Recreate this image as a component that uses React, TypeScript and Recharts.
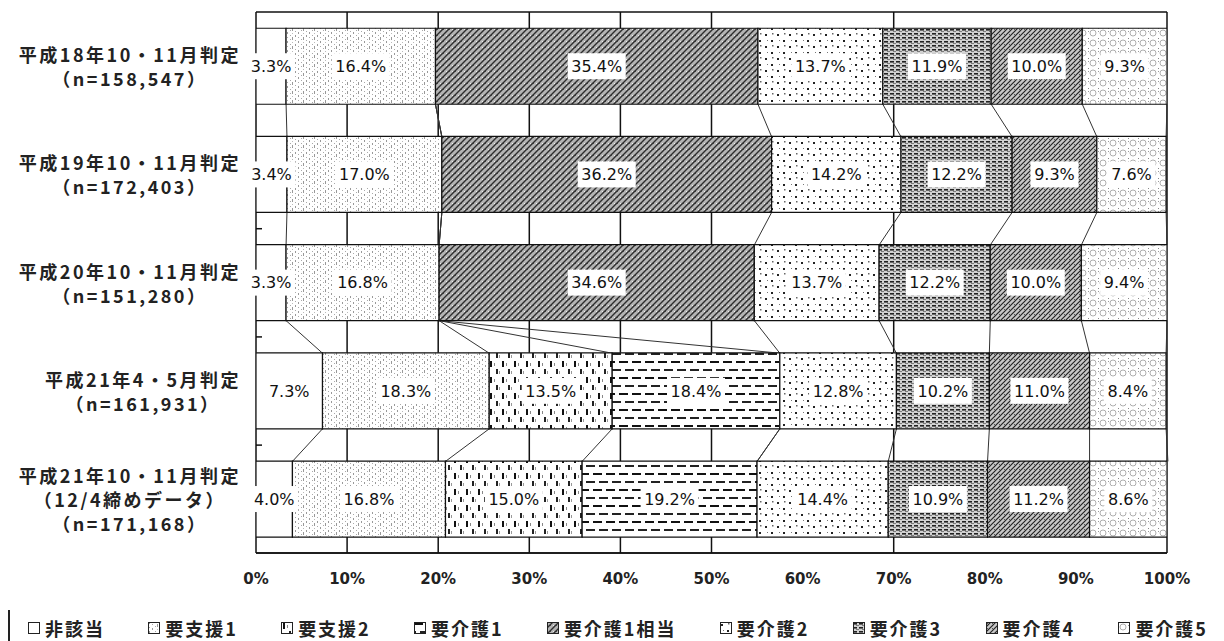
import {
  BarChart,
  Bar,
  XAxis,
  YAxis,
  CartesianGrid,
  LabelList,
  Legend,
} from "recharts";

const ROW_TITLES = [
  "平成18年10・11月判定",
  "平成19年10・11月判定",
  "平成20年10・11月判定",
  "平成21年4・5月判定",
  "平成21年10・11月判定",
];
const ROW_NOTES = [
  ["（n=158,547）"],
  ["（n=172,403）"],
  ["（n=151,280）"],
  ["（n=161,931）"],
  ["（12/4締めデータ）", "（n=171,168）"],
];

const SERIES_NAMES = [
  "非該当",
  "要支援1",
  "要支援2",
  "要介護1",
  "要介護1相当",
  "要介護2",
  "要介護3",
  "要介護4",
  "要介護5",
];

// percentages per judgement period, top row first
const HIGAITO = [3.3, 3.4, 3.3, 7.3, 4.0];
const SHIEN1 = [16.4, 17.0, 16.8, 18.3, 16.8];
const SHIEN2 = [0, 0, 0, 13.5, 15.0];
const KAIGO1 = [0, 0, 0, 18.4, 19.2];
const KAIGO1_EQ = [35.4, 36.2, 34.6, 0, 0];
const KAIGO2 = [13.7, 14.2, 13.7, 12.8, 14.4];
const KAIGO3 = [11.9, 12.2, 12.2, 10.2, 10.9];
const KAIGO4 = [10.0, 9.3, 10.0, 11.0, 11.2];
const KAIGO5 = [9.3, 7.6, 9.4, 8.4, 8.6];

const X_MAX = 100;
const X_TICKS = [0, 10, 20, 30, 40, 50, 60, 70, 80, 90, 100];
const GRID_X = [0, 10, 20, 30, 40, 50, 70, 100];
// row boundaries that carry a short tick on the left axis
const ROW_BOUNDS = [2, 3, 4];

const SERIES_VALUES = [
  HIGAITO,
  SHIEN1,
  SHIEN2,
  KAIGO1,
  KAIGO1_EQ,
  KAIGO2,
  KAIGO3,
  KAIGO4,
  KAIGO5,
];
const SERIES_KEYS = SERIES_VALUES.map((_, k) => `s${k}`);
const SERIES_FILLS = [
  "#ffffff",
  "url(#p-shien1)",
  "url(#p-shien2)",
  "url(#p-kaigo1)",
  "url(#p-kaigo1eq)",
  "url(#p-kaigo2)",
  "url(#p-kaigo3)",
  "url(#p-kaigo4)",
  "url(#p-kaigo5)",
];

// gap above and below each bar, as a share of the row band
const GAP = 0.15;

const data = ROW_TITLES.map((row, r) => {
  const d: Record<string, string | number> = { row };
  SERIES_VALUES.forEach((vals, k) => {
    d[SERIES_KEYS[k]] = vals[r];
  });
  return d;
});

// running totals, used for the series lines joining neighbouring bars
const ends = ROW_TITLES.map((_, r) => {
  let sum = 0;
  return SERIES_VALUES.map((vals) => (sum += vals[r]));
});

const JP_FONT = '"Noto Sans CJK JP", "Noto Sans", sans-serif';
const NUM_FONT = '"DejaVu Sans", sans-serif';

// drawn as the background of the first series: its rect spans the whole
// value axis for each row, so the series lines can be placed from it
function SeriesLines({ x, y, width, height, index, payload }: any) {
  const r = typeof index === "number" ? index : ROW_TITLES.indexOf(payload?.row);
  if (r < 0 || r >= ROW_TITLES.length - 1) return null;
  const band = height / (1 - 2 * GAP);
  const px = (v: number) => x + (width * v) / X_MAX;
  const y1 = y + height;
  const y2 = y + band;
  const mid = (y1 + y2) / 2;
  return (
    <g>
      {ends[r].map((e, k) => (
        <line
          key={k}
          x1={px(e)}
          y1={y1}
          x2={px(ends[r + 1][k])}
          y2={y2}
          stroke="#333"
          strokeWidth={1}
        />
      ))}
      {ROW_BOUNDS.includes(r + 1) && (
        <line x1={x} x2={x + 6} y1={mid} y2={mid} stroke="#111" strokeWidth={1.5} />
      )}
    </g>
  );
}

function RowTick({ x, y, payload }: any) {
  const i = ROW_TITLES.indexOf(payload.value);
  const lines = [ROW_TITLES[i], ...ROW_NOTES[i]];
  return (
    <foreignObject x={x - 260} y={y - 45} width={245} height={90}>
      <div
        style={{
          height: "100%",
          display: "flex",
          alignItems: "center",
          justifyContent: "flex-end",
        }}
      >
        <div
          style={{
            textAlign: "center",
            fontFamily: JP_FONT,
            fontSize: 18,
            fontWeight: 700,
            letterSpacing: 2.5,
            lineHeight: "24px",
            color: "#222",
            whiteSpace: "nowrap",
          }}
        >
          {lines.map((l) => (
            <div key={l}>{l}</div>
          ))}
        </div>
      </div>
    </foreignObject>
  );
}

function ValueLabel({ x, y, width, height, value }: any) {
  if (!value) return null;
  const text = `${Number(value).toFixed(1)}%`;
  const w = text.length * 10 + 8;
  const cx = x + width / 2;
  const cy = y + height / 2;
  return (
    <g>
      <rect x={cx - w / 2} y={cy - 13} width={w} height={26} fill="#fff" />
      <text
        x={cx}
        y={cy}
        dy="0.36em"
        textAnchor="middle"
        fontFamily={NUM_FONT}
        fontSize={16}
        fill="#111"
      >
        {text}
      </text>
    </g>
  );
}

function LegendBox() {
  return (
    <div
      style={{
        height: 31,
        boxSizing: "border-box",
        borderLeft: "2px solid #222",
        borderRight: "2px solid #222",
        display: "flex",
        alignItems: "center",
        justifyContent: "space-between",
        padding: "5px 12px 0 18px",
        fontFamily: JP_FONT,
        fontSize: 18,
        fontWeight: 700,
        letterSpacing: 2,
        color: "#222",
      }}
    >
      {SERIES_NAMES.map((name, k) => (
        <span key={name} style={{ display: "flex", alignItems: "center" }}>
          <svg width={12} height={12} style={{ marginRight: 5 }}>
            <rect x={0.5} y={0.5} width={11} height={11} fill={SERIES_FILLS[k]} stroke="#222" />
          </svg>
          {name}
        </span>
      ))}
    </div>
  );
}

export default function App() {
  return (
    <div style={{ width: 1216, height: 633, fontFamily: NUM_FONT }}>
      <BarChart
        width={1216}
        height={633}
        data={data}
        layout="vertical"
        barCategoryGap={`${GAP * 100}%`}
        margin={{ top: 4, right: 57, left: 0, bottom: 0 }}
      >
        <defs>
          <pattern id="p-shien1" width={11} height={9} patternUnits="userSpaceOnUse">
            <rect width={11} height={9} fill="#fff" />
            <rect x={1} y={0} width={1} height={2} fill="#999" />
            <rect x={1} y={5} width={1} height={1} fill="#aaa" />
            <rect x={4} y={2} width={1} height={1} fill="#aaa" />
            <rect x={4} y={6} width={1} height={2} fill="#999" />
            <rect x={7} y={0} width={1} height={1} fill="#aaa" />
            <rect x={7} y={4} width={1} height={1} fill="#aaa" />
            <rect x={9} y={2} width={1} height={3} fill="#999" />
            <rect x={9} y={7} width={1} height={1} fill="#bbb" />
          </pattern>
          <pattern id="p-shien2" width={12} height={16} patternUnits="userSpaceOnUse">
            <rect width={12} height={16} fill="#fff" />
            <rect x={2} y={1} width={2} height={6} fill="#111" />
            <rect x={8} y={9} width={2} height={5} fill="#222" />
            <rect x={6} y={3} width={1} height={3} fill="#888" />
            <rect x={11} y={11} width={1} height={3} fill="#999" />
          </pattern>
          <pattern id="p-kaigo1" width={26} height={16} patternUnits="userSpaceOnUse">
            <rect width={26} height={16} fill="#fff" />
            <rect x={0} y={1} width={9} height={2} fill="#111" />
            <rect x={13} y={1} width={9} height={2} fill="#111" />
            <rect x={6} y={9} width={9} height={2} fill="#222" />
            <rect x={19} y={9} width={7} height={2} fill="#222" />
            <rect x={0} y={9} width={2} height={2} fill="#222" />
          </pattern>
          <pattern id="p-kaigo1eq" width={6} height={6} patternUnits="userSpaceOnUse">
            <rect width={6} height={6} fill="#b4b4b4" />
            <path d="M0,6 L6,0 M-1,1 L1,-1 M5,7 L7,5" stroke="#2e2e2e" strokeWidth={1.4} />
            <rect x={3} y={3} width={1} height={1} fill="#444" />
            <rect x={0} y={3} width={1} height={1} fill="#eee" />
          </pattern>
          <pattern id="p-kaigo2" width={12} height={12} patternUnits="userSpaceOnUse">
            <rect width={12} height={12} fill="#fff" />
            <rect x={1} y={2} width={2} height={2} fill="#222" />
            <rect x={7} y={8} width={2} height={2} fill="#222" />
            <rect x={8} y={1} width={1.5} height={1.5} fill="#666" />
            <rect x={3} y={8} width={1} height={1} fill="#777" />
          </pattern>
          <pattern id="p-kaigo3" width={6} height={4} patternUnits="userSpaceOnUse">
            <rect width={6} height={4} fill="#d2d2d2" />
            <rect x={0} y={1} width={4} height={1.6} fill="#222" />
            <rect x={3} y={3} width={3} height={0.8} fill="#666" />
          </pattern>
          <pattern id="p-kaigo4" width={5} height={5} patternUnits="userSpaceOnUse">
            <rect width={5} height={5} fill="#c8c8c8" />
            <path d="M0,5 L5,0 M-1,1 L1,-1 M4,6 L6,4" stroke="#222" strokeWidth={1.2} />
            <rect x={1} y={1} width={1} height={1} fill="#555" />
          </pattern>
          <pattern id="p-kaigo5" width={10} height={10} patternUnits="userSpaceOnUse">
            <rect width={10} height={10} fill="#fff" />
            <circle cx={5} cy={5} r={3} fill="none" stroke="#999" strokeWidth={0.8} />
            <rect x={0} y={0} width={1} height={1} fill="#888" />
            <rect x={0} y={3} width={1} height={1} fill="#999" />
          </pattern>
        </defs>

        {/* vertical grid plus the frame's top and bottom edges */}
        <CartesianGrid
          stroke="#111"
          strokeWidth={1.5}
          verticalValues={GRID_X}
          horizontalCoordinatesGenerator={({ offset, height }: any) => [
            offset.top,
            height - offset.bottom,
          ]}
        />
        <XAxis
          type="number"
          domain={[0, X_MAX]}
          allowDataOverflow
          ticks={X_TICKS}
          tickFormatter={(v) => `${v}%`}
          tickLine={false}
          axisLine={{ stroke: "#111", strokeWidth: 1.5 }}
          tickSize={0}
          tickMargin={20}
          height={57}
          tick={{ fontSize: 15, fontWeight: 700, fill: "#222", fontFamily: NUM_FONT }}
        />
        <YAxis
          type="category"
          dataKey="row"
          width={248}
          tickLine={false}
          axisLine={false}
          tickSize={0}
          tickMargin={0}
          interval={0}
          tick={<RowTick />}
        />

        {SERIES_KEYS.map((key, k) => (
          <Bar
            key={key}
            dataKey={key}
            name={SERIES_NAMES[k]}
            stackId="all"
            fill={SERIES_FILLS[k]}
            stroke="#111"
            strokeWidth={1.2}
            background={k === 0 ? <SeriesLines /> : undefined}
            isAnimationActive={false}
          >
            <LabelList dataKey={key} content={<ValueLabel />} />
          </Bar>
        ))}

        <Legend
          verticalAlign="bottom"
          content={() => <LegendBox />}
          wrapperStyle={{ left: 0, width: 1214 }}
        />
      </BarChart>
    </div>
  );
}
